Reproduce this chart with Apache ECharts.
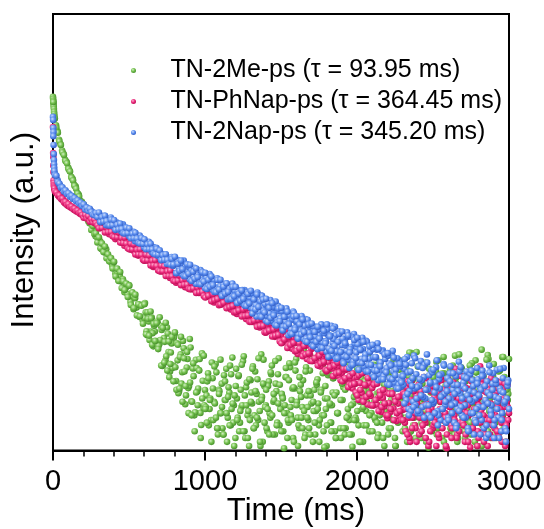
<!DOCTYPE html>
<html>
<head>
<meta charset="utf-8">
<script src="https://cdn.jsdelivr.net/npm/echarts@6/dist/echarts.min.js"></script>
<style>
html,body{margin:0;padding:0;background:#fff;}
#chart{width:544px;height:529px;}
</style>
</head>
<body>
<div id="chart"></div>
<script>
// ---- sampling times (ms) ----
const timeMs = [
0,10,20,30,40,50,60,70,80,90,100,110,120,130,140,150,160,170,180,190,
200,210,220,230,240,250,260,270,280,290,300,310,320,330,340,350,360,370,380,390,
400,410,420,430,440,450,460,470,480,490,500,510,520,530,540,550,560,570,580,590,
600,610,620,630,640,650,660,670,680,690,700,710,720,730,740,750,760,770,780,790,
800,810,820,830,840,850,860,870,880,890,900,910,920,930,940,950,960,970,980,990,
1000,1010,1020,1030,1040,1050,1060,1070,1080,1090,1100,1110,1120,1130,1140,1150,1160,1170,1180,1190,
1200,1210,1220,1230,1240,1250,1260,1270,1280,1290,1300,1310,1320,1330,1340,1350,1360,1370,1380,1390,
1400,1410,1420,1430,1440,1450,1460,1470,1480,1490,1500,1510,1520,1530,1540,1550,1560,1570,1580,1590,
1600,1610,1620,1630,1640,1650,1660,1670,1680,1690,1700,1710,1720,1730,1740,1750,1760,1770,1780,1790,
1800,1810,1820,1830,1840,1850,1860,1870,1880,1890,1900,1910,1920,1930,1940,1950,1960,1970,1980,1990,
2000,2010,2020,2030,2040,2050,2060,2070,2080,2090,2100,2110,2120,2130,2140,2150,2160,2170,2180,2190,
2200,2210,2220,2230,2240,2250,2260,2270,2280,2290,2300,2310,2320,2330,2340,2350,2360,2370,2380,2390,
2400,2410,2420,2430,2440,2450,2460,2470,2480,2490,2500,2510,2520,2530,2540,2550,2560,2570,2580,2590,
2600,2610,2620,2630,2640,2650,2660,2670,2680,2690,2700,2710,2720,2730,2740,2750,2760,2770,2780,2790,
2800,2810,2820,2830,2840,2850,2860,2870,2880,2890,2900,2910,2920,2930,2940,2950,2960,2970,2980,2990,
3000];
const earlyTimeMs = [1,2,3,4,5,6,7,8,9];
const offsetTimeMs = [
605,615,625,635,645,655,665,675,685,695,705,715,725,735,745,755,765,775,785,795,
805,815,825,835,845,855,865,875,885,895,905,915,925,935,945,955,965,975,985,995,
1005,1015,1025,1035,1045,1055,1065,1075,1085,1095,1105,1115,1125,1135,1145,1155,1165,1175,1185,1195,
1205,1215,1225,1235,1245,1255,1265,1275,1285,1295,1305,1315,1325,1335,1345,1355,1365,1375,1385,1395,
1405,1415,1425,1435,1445,1455,1465,1475,1485,1495,1505,1515,1525,1535,1545,1555,1565,1575,1585,1595,
1605,1615,1625,1635,1645,1655,1665,1675,1685,1695,1705,1715,1725,1735,1745,1755,1765,1775,1785,1795,
1805,1815,1825,1835,1845,1855,1865,1875,1885,1895,1905,1915,1925,1935,1945,1955,1965,1975,1985,1995,
2005,2015,2025,2035,2045,2055,2065,2075,2085,2095,2105,2115,2125,2135,2145,2155,2165,2175,2185,2195,
2205,2215,2225,2235,2245,2255,2265,2275,2285,2295,2305,2315,2325,2335,2345,2355,2365,2375,2385,2395,
2405,2415,2425,2435,2445,2455,2465,2475,2485,2495,2505,2515,2525,2535,2545,2555,2565,2575,2585,2595,
2605,2615,2625,2635,2645,2655,2665,2675,2685,2695,2705,2715,2725,2735,2745,2755,2765,2775,2785,2795,
2805,2815,2825,2835,2845,2855,2865,2875,2885,2895,2905,2915,2925,2935,2945,2955,2965,2975,2985,2995];
const lateTimeMs = [
2,12,22,32,42,52,62,72,82,92,102,112,122,132,142,152,162,172,182,192,
202,212,222,232,242,252,262,272,282,292,302,312,322,332,342,352,362,372,382,392,
402,412,422,432,442,452,462,472,482,492,502,512,522,532,542,552,562,572,582,592,
602,612,622,632,642,652,662,672,682,692,702,712,722,732,742,752,762,772,782,792,
802,812,822,832,842,852,862,872,882,892,902,912,922,932,942,952,962,972,982,992,
1002,1012,1022,1032,1042,1052,1062,1072,1082,1092,1102,1112,1122,1132,1142,1152,1162,1172,1182,1192,
1202,1212,1222,1232,1242,1252,1262,1272,1282,1292,1302,1312,1322,1332,1342,1352,1362,1372,1382,1392,
1402,1412,1422,1432,1442,1452,1462,1472,1482,1492,1502,1512,1522,1532,1542,1552,1562,1572,1582,1592,
1602,1612,1622,1632,1642,1652,1662,1672,1682,1692,1702,1712,1722,1732,1742,1752,1762,1772,1782,1792,
1802,1812,1822,1832,1842,1852,1862,1872,1882,1892,1902,1912,1922,1932,1942,1952,1962,1972,1982,1992,
2002,2012,2022,2032,2042,2052,2062,2072,2082,2092,2102,2112,2122,2132,2142,2152,2162,2172,2182,2192,
2202,2212,2222,2232,2242,2252,2262,2272,2282,2292,2302,2312,2322,2332,2342,2352,2362,2372,2382,2392,
2402,2412,2422,2432,2442,2452,2462,2472,2482,2492,2502,2512,2522,2532,2542,2552,2562,2572,2582,2592,
2602,2612,2622,2632,2642,2652,2662,2672,2682,2692,2702,2712,2722,2732,2742,2752,2762,2772,2782,2792,
2802,2812,2822,2832,2842,2852,2862,2872,2882,2892,2902,2912,2922,2932,2942,2952,2962,2972,2982,2992];

// ---- TN-2Me-ps intensities (a.u.) ----
const tn2MeMain = [1740,
1090,955,840,705,640,560,520,462,440,392,
365,322,308,272,262,229,220,194,190,167,
165,143,139,121,120,105,103,92,90,
81.8,83.2,69.7,73.4,65.1,69.7,60.8,54.1,56.4,49.7,
53.1,42.0,43.3,36.4,39.9,35.3,37.0,28.2,31.1,27.3,
32.9,23.1,26.0,19.7,24.9,20.4,21.7,16.7,21.6,15.7,
16.4,18.5,11.4,15.2,12.3,16.5,9.0,12.3,9.8,14.6,
9.47,13.8,5.95,10.7,6.71,13.4,8.0,5.30,9.57,6.01,
11.6,4.34,6.70,3.51,7.60,5.22,8.66,2.65,5.77,3.73,
10.5,2.83,5.65,2.10,6.77,3.47,5.47,2.21,7.76,2.46,
3.59,
3.2,5.1,2.4,1.9,4.6,2.8,6.2,1.6,3.6,2.2,
4.1,1.4,2.9,5.6,2.0,3.4,1.7,7.1,2.6,1.3,
3.0,4.8,1.8,2.5,6.6,1.5,3.8,2.1,1.1,4.4,
2.7,1.6,5.3,3.3,1.9,2.3,7.6,1.2,3.9,2.6,
1.5,4.3,2.0,6.0,2.8,1.4,3.5,5.0,1.7,2.4,
3.1,1.05,4.7,2.2,1.8,5.8,2.9,1.3,3.7,6.9,
2.0,1.6,4.0,2.5,8.3,1.4,3.2,1.9,5.4,2.7,
1.2,3.6,2.3,4.5,1.7,6.3,2.1,1.5,3.0,1.1,
4.9,2.6,1.8,3.4,7.4,1.3,2.2,5.2,1.6,2.9,
3.8,1.4,6.5,2.4,1.9,4.2,1.08,3.1,2.0,5.7,
1.7,2.8,4.6,1.2,3.5,2.3,7.0,1.5,2.6,4.0,
6.1,1.9,3.3,1.4,2.1,5.0,2.7,1.1,3.9,2.2,
1.6,4.4,2.5,6.8,1.3,3.0,1.8,5.5,2.9,1.5,
3.6,2.0,1.2,4.8,2.4,7.8,1.7,3.2,2.2,5.9,
1.4,2.7,4.1,1.9,6.4,2.3,1.06,3.7,2.6,4.9,
2.1,5.3,1.6,3.4,2.8,1.3,7.2,2.0,4.3,1.8,
3.1,1.5,6.0,2.5,4.6,1.2,3.8,2.2,5.6,1.7,
2.9,4.9,1.9,3.5,1.4,4.5,2.4,6.7,1.1,3.0,
2.0,8.4,2.7,1.6,4.0,7.5,2.3,1.3,3.3,6.2,
1.8,3.9,2.6,5.4,1.5,2.1,4.7,1.2,3.6,6.9];
const tn2MeEarly = [1667,1598,1532,1469,1407,1349,1267,1214,1164];
const tn2MeOffset = [
22.5,12.4,16.1,10.3,16.3,11.9,13.9,9.2,15.2,9.1,
10.3,12.7,6.1,9.9,7.3,11.8,4.7,7.9,5.7,10.8,
5.8,9.6,3.35,7.2,4.1,10.1,5.3,3.2,6.9,3.9,
8.8,2.8,4.8,2.24,5.7,3.7,6.9,1.71,4.35,2.6,
2.5,4.3,1.7,3.0,6.4,1.9,2.7,5.2,1.4,3.5,
2.2,1.6,4.9,2.9,1.2,3.8,6.0,2.4,1.8,3.2,
5.6,2.0,1.5,3.6,2.6,7.3,1.3,4.2,2.3,1.9,
3.4,5.9,2.1,1.7,4.5,2.8,1.1,3.1,6.8,2.5,
1.6,3.9,2.2,5.0,1.4,2.9,4.1,1.8,7.0,2.4,
3.3,1.5,2.6,4.7,1.9,6.3,2.1,3.7,1.2,5.4,
2.8,1.7,3.5,2.0,4.4,1.3,5.8,2.5,1.6,3.2,
6.6,2.3,1.4,4.0,2.7,1.9,3.6,5.1,1.07,2.4,
3.0,7.7,1.8,2.6,4.6,1.5,3.4,2.2,5.5,1.3,
2.9,4.2,1.6,3.8,2.1,6.1,1.4,2.7,4.8,1.9,
3.3,1.2,5.7,2.4,1.7,3.9,2.8,7.1,1.5,2.2,
4.5,2.0,3.1,1.3,6.5,2.6,1.8,4.1,2.3,5.3,
1.4,3.5,2.9,1.9,4.9,1.1,3.7,6.2,2.1,2.7,
5.0,1.6,3.2,2.4,7.9,1.5,4.4,2.0,1.3,3.6,
2.5,6.0,1.8,3.0,4.7,1.2,2.3,5.6,3.4,1.7,
4.0,2.2,1.4,6.7,2.8,3.5,1.9,5.1,1.05,2.6,
3.8,1.6,4.6,2.1,7.4,2.9,1.3,3.3,5.8,2.0,
1.5,4.3,2.4,3.1,1.8,6.3,2.7,1.2,5.2,3.6,
2.2,5.2,1.7,4.0,2.6,1.4,6.9,3.0,1.9,4.8,
2.5,1.3,3.7,5.5,2.0,7.2,1.6,4.4,2.8,3.3];
const tn2MeLate = [
1560,1110,905,815,680,630,540,510,450,428,380,360,316,298,266,250,226,212,190,183,
179,146,158,126,127,105,114,96.4,98.0,80.6,
89.8,71.3,79.0,65.9,74.1,57.7,62.8,54.1,57.9,46.5,
53.7,39.4,46.4,35.8,43.2,30.8,35.6,29.6,33.8,25.5,
32.4,21.6,28.1,20.2,26.8,17.3,21.9,17.0,21.2,14.5,
21.9,11.6,18.5,11.3,18.8,9.3,14.5,10.1,14.7,8.5,
16.6,6.0,13.3,6.4,14.8,5.4,10.0,6.2,11.0,4.3,
12.1,3.6,9.3,3.7,11.0,2.8,7.0,3.9,8.0,2.2,
4.2,2.1,6.3,1.5,3.4,2.6,5.4,1.3,3.0,7.4,
2.4,1.8,4.6,2.9,1.2,3.7,5.9,2.0,1.6,3.3,
6.8,2.5,1.4,4.3,2.2,3.1,1.7,5.0,2.7,1.1,
3.9,1.9,4.9,2.3,6.1,1.5,3.2,2.6,1.3,4.5,
2.8,5.6,1.6,3.5,2.0,7.0,1.2,2.9,4.1,1.8,
3.6,2.4,1.4,5.2,2.1,3.3,6.6,1.7,2.7,4.0,
1.5,3.0,2.2,5.7,1.3,4.4,2.5,1.9,3.8,6.4,
2.6,1.1,4.7,3.1,1.6,2.3,5.3,2.0,3.5,1.4,
7.1,2.8,1.8,4.2,2.4,1.2,3.4,6.0,2.1,3.9,
1.7,5.1,2.7,1.5,4.6,3.2,1.3,2.2,5.8,2.9,
4.1,1.6,3.6,2.0,6.9,1.4,2.6,4.8,1.9,3.3,
2.3,5.5,1.2,3.0,2.5,4.3,1.7,7.3,2.1,3.7,
1.5,2.8,4.9,1.8,3.4,6.2,2.4,1.3,4.0,2.7,
5.0,2.0,1.6,3.5,2.9,1.1,4.4,2.2,6.7,3.1,
1.9,3.8,2.5,5.4,1.4,3.2,2.1,4.6,1.7,8.0,
2.6,4.2,1.3,3.0,5.9,2.3,1.8,3.6,2.8,1.5,
4.7,2.0,6.5,1.6,3.3,2.4,5.1,1.2,3.9,2.7,
1.9,5.6,2.2,3.4,1.4,4.1,2.9,7.6,1.7,3.1,
2.5,1.3,4.5,2.1,6.0,3.7,1.6,2.8,5.2,1.8,
3.5,2.3,1.1,4.8,2.6,6.8,1.5,3.2,2.0,4.3,
1.4,3.9,2.7,5.3,1.9,2.4,7.2,1.6,3.6,2.9];

// ---- TN-PhNap-ps intensities (a.u.) ----
const phNapMain = [922,
248,229,226,211,214,199,196,183,185,174,
176,168,169,160,162,154,155,147,149,141,
143,135,137,129,131,124,126,120,123,117,
108.7,121.0,109.1,120.2,101.7,107.5,95.9,106.8,99.4,106.2,
86.5,95.7,87.6,99.0,81.5,87.4,75.1,85.7,76.8,79.8,
69.4,80.3,67.6,69.7,71.8,61.1,66.4,61.5,66.8,54.8,
59.9,55.1,61.8,54.1,57.5,48.0,53.2,47.8,54.1,48.1,
43.7,48.6,43.7,48.1,40.6,42.8,38.1,42.3,39.3,41.9,
34.4,38.4,35.4,40.4,33.5,36.3,31.4,36.2,32.7,34.3,
30.1,35.1,29.8,31.0,32.2,27.8,30.3,28.3,31.0,25.7,
28.4,25.8,30.8,26.0,28.8,22.7,26.8,23.4,28.4,24.5,
21.8,25.6,22.4,26.0,20.8,22.7,19.6,23.1,21.1,23.4,
17.8,20.8,18.7,22.5,17.4,19.4,16.0,19.4,17.0,18.1,
15.1,18.7,14.9,15.7,16.6,13.4,15.2,13.8,15.7,12.0,
13.8,12.5,14.8,12.5,13.8,11.0,12.7,11.2,13.3,11.4,
9.7,12.3,10.2,12.7,9.27,10.6,8.59,10.9,9.63,11.2,
7.67,9.67,8.34,11.0,7.67,9.08,6.90,9.27,7.67,8.52,
6.62,9.11,6.65,7.26,7.91,5.90,7.15,6.31,7.65,5.30,
6.46,5.61,7.23,5.64,6.54,4.86,5.86,4.84,6.35,5.13,
4.33,5.45,4.51,5.54,4.03,4.57,3.70,4.64,4.08,4.72,
2.90,4.16,3.37,5.13,3.03,3.94,2.64,4.16,3.16,3.74,
2.58,4.20,2.64,3.03,3.47,2.25,3.03,2.53,3.40,1.98,
2.72,2.25,3.37,2.42,3.03,1.86,2.69,2.06,3.17,2.35,
2.6,1.5,3.8,2.0,1.2,4.4,2.9,1.7,3.2,2.3,
1.4,3.5,2.1,4.7,1.8,2.7,1.1,3.9,2.4,1.6,
3.1,2.0,4.2,1.3,2.8,1.9,3.6,2.2,1.05,4.5,
2.5,1.7,3.3,2.1,5.6,1.4,2.9,1.8,3.7,2.3,
1.2,3.0,2.6,4.6,1.6,2.2,3.4,1.9,2.8,1.3,
5.9,2.4,1.5,3.5,2.0,1.1,3.9,2.7,1.7,3.2,
2.1,4.3,1.4,2.9,1.8,3.6,2.5,1.2,4.0,2.2];
const phNapEarly = [533,490,357,300,283,270,262,256,252];
const phNapTail = [
3.4,1.8,2.5,4.3,1.3,2.9,2.0,3.8,1.6,2.7,
4.0,2.2,1.5,3.1,1.9,4.6,2.6,1.2,3.5,2.1,
1.7,2.9,3.9,1.4,2.4,4.4,1.9,3.2,1.1,2.6,
3.6,2.0,1.6,4.2,2.7,1.3,3.0,2.3,4.8,1.8,
2.5,1.4,3.7,2.1,1.07,3.3,4.1,1.8,2.9,1.5,
3.1,2.3,4.5,1.2,2.7,1.9,3.6,1.4,2.2,4.0,
1.6,3.4,2.6,1.3,4.2,2.0,3.0,1.1,2.8,1.9];
const phNapLate = [
410,238,232,218,218,203,204,188,190,178,181,170,172,163,165,156,158,150,152,144,
135.9,144.6,133.8,140.7,125.1,132.0,123.2,130.8,121.3,115.7,
108.9,123.2,109.8,122.4,99.6,110.7,100.3,113.0,100.8,91.9,
90.4,101.7,90.0,99.7,80.4,88.8,79.8,89.2,78.8,71.2,
69.8,78.5,69.7,77.3,62.6,69.2,62.4,69.9,62.0,56.1,
55.2,62.3,55.3,61.4,49.7,55.0,49.6,55.6,49.3,44.7,
43.9,49.5,44.0,49.0,39.7,44.0,39.7,44.6,39.6,36.0,
35.6,40.3,36.0,40.2,32.7,36.4,33.0,37.2,33.2,30.3,
30.1,34.2,30.6,34.2,27.8,31.1,28.2,31.9,28.5,26.1,
25.2,30.4,26.2,30.7,23.3,27.1,23.9,28.4,24.5,21.4,
21.8,26.2,22.6,26.4,20.1,23.4,20.6,24.4,21.1,18.4,
18.6,22.3,19.2,22.3,16.9,19.6,17.1,20.2,17.3,15.1,
15.1,18.2,15.5,18.0,13.6,15.8,13.9,16.2,13.9,12.1,
12.2,14.6,12.6,14.7,11.1,12.9,11.3,13.4,11.5,10.0,
9.6,12.8,10.4,12.8,8.7,11.0,9.3,11.8,9.7,8.1,
8.2,10.7,8.6,10.7,7.3,9.1,7.6,9.7,7.8,6.6,
6.6,8.7,7.0,8.8,6.0,7.4,6.3,8.0,6.5,5.5,
5.4,7.1,5.8,7.1,4.8,6.0,5.1,6.4,5.2,4.4,
4.3,5.6,4.6,5.6,3.8,4.8,4.0,5.1,4.1,3.4,
3.2,4.9,3.6,5.1,2.8,4.0,3.1,4.6,3.3,2.6,
2.6,4.0,2.9,4.1,2.3,3.2,2.5,3.6,2.7,2.1,
2.1,3.3,2.4,3.3,1.9,2.8,2.2,3.1,2.3,1.9,
1.9,3.3,2.4,1.4,4.1,2.8,1.6,3.5,2.2,1.2,
3.0,2.0,4.4,1.7,2.6,1.3,3.7,2.3,1.5,3.9,
2.7,1.8,1.1,3.4,2.1,4.7,1.6,2.9,2.0,1.4,
4.2,2.5,1.3,3.1,1.9,5.2,2.3,1.5,3.6,2.8,
1.7,3.8,2.2,1.2,2.9,4.3,1.6,2.4,3.3,1.1,
2.6,1.8,4.0,2.1,1.4,3.4,2.7,1.9,4.6,1.3,
3.2,2.0,1.5,3.7,2.4,1.2,2.9,4.1,1.7,2.5];

// ---- TN-2Nap-ps intensities (a.u.) ----
const tn2NapMain = [1140,
349,328,301,277,263,255,244,239,231,224,
220,214,209,204,198,194,189,184,180,175,
172,168,164,160,157,153,150,147,144,140,
126.5,141.4,131.9,141.4,116.2,129.7,120.0,136.7,113.8,123.0,
106.8,122.7,111.0,116.2,101.7,118.5,100.5,104.1,107.8,92.5,
100.5,93.1,101.1,82.9,90.6,83.4,93.5,81.8,87.0,72.6,
80.5,72.3,81.8,72.7,66.0,73.2,65.7,72.1,60.8,63.9,
56.9,63.2,58.7,62.6,51.2,56.9,52.3,59.4,49.1,52.8,
42.4,55.5,47.2,51.6,41.2,54.9,41.4,44.7,48.4,37.1,
44.2,39.5,47.3,33.8,40.5,35.8,45.1,36.3,41.6,30.8,
38.1,32.2,41.5,34.4,29.7,36.6,31.1,37.8,28.6,32.1,
26.7,33.0,29.6,33.9,24.2,29.9,26.6,33.8,24.6,28.8,
22.6,29.6,25.0,27.7,22.1,29.5,22.3,24.1,26.2,20.3,
24.3,20.9,27.0,16.9,22.2,18.7,26.3,19.4,23.8,15.5,
21.1,16.6,23.96,18.4,14.9,20.3,16.0,21.2,14.2,16.8,
13.0,17.8,15.2,18.6,11.4,15.6,13.1,18.8,11.9,15.0,
10.6,15.8,12.5,14.4,10.5,16.0,10.7,12.1,13.6,9.39,
12.2,10.5,13.6,8.48,11.3,9.57,13.5,10.0,12.3,8.05,
11.4,8.27,13.9,9.71,7.32,11.4,8.30,12.4,7.17,9.23,
6.47,10.1,8.23,11.0,5.70,8.89,6.97,11.7,6.31,8.78,
5.48,9.54,6.93,8.52,5.57,10.1,5.81,6.94,8.30,5.00,
7.15,5.82,8.38,4.40,6.44,5.15,8.30,5.47,7.27,4.05,
6.27,4.47,7.58,5.29,3.98,6.15,4.46,6.64,3.84,4.90,
5.6,3.1,7.2,2.4,4.3,6.3,2.8,3.7,5.0,2.2,
3.9,6.6,2.5,4.7,3.0,7.6,2.1,4.1,5.4,2.7,
3.4,5.8,2.3,4.5,1.9,3.2,6.2,2.6,4.0,2.0,
5.1,2.9,3.6,1.8,4.8,2.4,6.5,3.3,2.1,4.2,
2.6,5.3,1.6,3.5,2.2,4.4,1.4,3.0,5.7,2.5,
3.8,1.9,4.9,2.8,1.3,3.4,6.0,2.3,4.1,1.7,
3.1,5.5,2.0,3.7,1.5,4.6,2.7,1.2,3.9,2.4];
const tn2NapEarly = [1070,903,830,631,520,460,420,389,365];
const tn2NapOffset = [
24.9,28.8,23.1,26.7,29.5,22.6,25.8,27.9,22.0,25.2,
27.5,19.8,24.6,21.5,28.0,18.6,23.3,26.1,19.0,21.9,
17.2,22.5,18.0,15.4,20.6,17.7,23.2,14.9,19.1,16.3,
18.9,13.6,16.7,20.1,14.4,17.3,12.9,15.9,18.2,13.3,
15.3,11.5,14.6,17.1,12.3,13.9,10.6,15.8,12.0,14.1,
10.2,13.7,11.1,9.3,12.8,10.7,14.3,9.8,11.9,10.0,
12.9,8.6,11.3,7.4,10.5,13.6,8.1,9.9,12.0,7.8,
10.6,7.3,9.2,12.1,6.8,8.5,11.0,6.5,9.6,7.9,
9.4,6.4,8.3,10.8,5.9,7.6,9.9,6.1,8.0,5.6,
8.5,5.4,7.1,9.6,5.0,6.4,8.1,4.8,6.9,5.7,
7.4,4.6,6.1,8.2,4.2,5.5,7.0,4.0,5.9,4.4,
4.0,6.9,2.9,5.2,3.5,2.3,4.6,7.4,2.6,3.8,
5.9,2.2,4.4,3.1,6.1,2.6,3.6,4.9,2.0,5.2,
2.8,4.2,6.7,2.1,3.7,5.0,2.4,3.3,1.8,4.6,
3.0,5.9,2.2,4.0,2.7,1.7,3.5,5.3,2.5,3.9,
4.7,2.0,3.2,1.5,5.0,2.8,3.9,1.9,2.4,4.5,
2.1,3.6,5.4,1.6,2.9,4.3,1.4,3.2,2.6,5.1,
1.9,4.1,2.8,1.3,3.5,2.2,5.7,1.6,3.0,4.4];
const tn2NapLate = [
760,335,330,288,280,256,258,236,242,224,228,212,216,202,206,192,196,183,187,174,
180.2,161.5,168.1,156.6,164.3,153.1,145.2,143.4,150.2,138.2,
151.8,123.8,138.0,125.4,141.7,126.7,115.9,115.3,130.5,116.4,
129.1,105.2,117.2,106.4,120.1,107.3,98.1,97.5,110.2,98.2,
108.6,88.0,97.5,88.1,98.9,87.8,79.8,78.8,88.5,78.3,
86.1,69.8,77.5,69.9,78.6,69.8,63.5,62.7,70.5,62.4,
68.3,55.5,61.7,55.9,62.9,56.0,51.1,50.6,57.0,50.6,
59.6,42.2,51.5,44.4,55.1,45.9,39.6,39.5,50.8,41.7,
50.3,35.7,43.5,37.5,46.6,38.8,33.5,33.4,43.1,35.3,
42.5,30.2,36.8,31.7,39.4,32.8,28.4,28.3,36.5,29.9,
36.7,26.1,31.7,27.4,34.1,28.4,24.6,24.4,31.6,25.9,
31.6,22.5,27.4,23.6,29.3,24.5,21.2,21.1,27.2,22.3,
29.1,18.0,24.2,19.6,26.9,20.7,16.9,16.8,24.2,18.4,
24.6,15.1,20.3,16.4,22.4,17.3,14.1,14.0,20.0,15.3,
20.3,12.6,16.8,13.7,18.7,14.4,11.8,11.7,16.9,12.8,
17.1,10.6,14.3,11.6,15.9,12.2,10.0,9.9,14.3,10.9,
14.6,9.0,12.2,9.9,13.6,10.6,8.7,8.7,12.5,9.6,
14.3,7.2,11.1,8.2,13.1,9.1,6.9,7.0,11.7,8.0,
12.3,6.3,9.6,7.2,11.3,7.9,6.0,6.1,10.3,7.0,
10.8,5.5,8.4,6.3,9.9,6.9,5.3,5.3,9.0,6.1,
9.3,4.7,7.2,5.4,8.5,5.9,4.5,4.5,7.6,5.2,
7.8,4.0,6.0,4.5,7.1,4.9,3.7,3.7,6.2,4.2,
4.8,2.7,6.1,3.3,2.1,5.3,3.9,2.5,7.0,3.0,
2.3,4.5,3.2,5.7,2.0,3.6,6.4,2.6,4.2,2.9,
5.5,2.2,3.8,1.7,4.9,3.1,2.4,6.0,2.8,3.5,
1.9,4.3,2.6,5.1,3.3,1.6,4.0,2.3,5.8,3.0,
2.0,3.7,4.6,1.5,2.9,5.4,2.2,3.4,1.8,4.1,
3.2,1.4,4.8,2.5,3.9,1.7,2.7,5.2,2.1,3.6,
1.3,4.4,2.4,3.0,5.6,1.9,3.4,2.8,1.5,4.2];

const seriesNames = ['TN-2Me-ps (\u03c4 = 93.95 ms)', 'TN-PhNap-ps (\u03c4 = 364.45 ms)', 'TN-2Nap-ps (\u03c4 = 345.20 ms)'];
const xTickLabels = ['0', '1000', '2000', '3000'];

function pairs(times, values) {
  const n = Math.min(times.length, values.length);
  const out = [];
  for (let i = 0; i < n; i++) out.push([times[i], values[i]]);
  return out;
}

const FONT = '"Liberation Sans", Arial, Helvetica, sans-serif';
const chart = echarts.init(document.getElementById('chart'), null, {renderer: 'canvas'});

function ball(c0, c1, c2) {
  return new echarts.graphic.RadialGradient(0.38, 0.35, 0.62, [
    {offset: 0, color: c0}, {offset: 0.55, color: c1}, {offset: 1, color: c2}
  ]);
}
const greenCol = ball('#d2f0c2', '#74c04e', '#4c9630');
const pinkCol = ball('#ffb0d0', '#ec2e7f', '#c20f58');
const blueCol = ball('#cadbfc', '#5d8fef', '#3563cc');

const greenData = pairs(timeMs, tn2MeMain).concat(pairs(earlyTimeMs, tn2MeEarly), pairs(offsetTimeMs, tn2MeOffset), pairs(lateTimeMs, tn2MeLate));
const pinkData = pairs(timeMs, phNapMain).concat(pairs(earlyTimeMs, phNapEarly), pairs(offsetTimeMs.slice(170), phNapTail), pairs(lateTimeMs, phNapLate));
const blueData = pairs(timeMs, tn2NapMain).concat(pairs(earlyTimeMs, tn2NapEarly), pairs(offsetTimeMs.slice(60), tn2NapOffset), pairs(lateTimeMs, tn2NapLate));

function scatter(name, data, col) {
  return {
    name: name, type: 'scatter', data: data, symbol: 'circle', symbolSize: 6.6,
    itemStyle: {color: col, opacity: 1}, emphasis: {disabled: true}, large: false, clip: true
  };
}

chart.setOption({
  animation: false,
  backgroundColor: '#fff',
  grid: {left: 53, top: 14, width: 456, height: 436.5, show: true, borderColor: '#000', borderWidth: 2,
         backgroundColor: 'transparent', containLabel: false, outerBoundsMode: 'none'},
  legend: {
    show: true, orient: 'vertical', left: 131, top: 58, padding: 0, itemGap: 6,
    itemWidth: 64, itemHeight: 5, icon: 'circle', selectedMode: false,
    textStyle: {fontFamily: FONT, fontSize: 25, color: '#000'},
    data: seriesNames
  },
  xAxis: {
    type: 'value', min: 0, max: 3000, interval: 1000,
    axisLine: {show: true, onZero: false, lineStyle: {color: '#000', width: 2}},
    axisTick: {show: true, inside: false, length: 10, lineStyle: {color: '#000', width: 2}},
    minorTick: {show: true, splitNumber: 5, length: 6, lineStyle: {color: '#000', width: 1.5}},
    splitLine: {show: false}, minorSplitLine: {show: false},
    axisLabel: {fontFamily: FONT, fontSize: 29, color: '#000', margin: 17,
      formatter: function (v) { const i = Math.round(v / 1000); return xTickLabels[i] !== undefined ? xTickLabels[i] : String(v); }},
    name: 'Time (ms)', nameLocation: 'middle', nameGap: 45, nameMoveOverlap: false,
    nameTextStyle: {fontFamily: FONT, fontSize: 31, color: '#000', padding: [0, 0, 0, 30]}
  },
  yAxis: {
    type: 'log', logBase: 10, min: 1, max: 10000,
    axisLine: {show: true, lineStyle: {color: '#000', width: 2}},
    axisTick: {show: false}, axisLabel: {show: false}, splitLine: {show: false},
    name: 'Intensity (a.u.)', nameLocation: 'middle', nameGap: 13,
    nameTextStyle: {fontFamily: FONT, fontSize: 31, color: '#000', padding: [0, 0, 0, 4]}
  },
  series: [
    scatter(seriesNames[0], greenData, greenCol),
    scatter(seriesNames[1], pinkData, pinkCol),
    scatter(seriesNames[2], blueData, blueCol)
  ]
});
</script>
</body>
</html>
